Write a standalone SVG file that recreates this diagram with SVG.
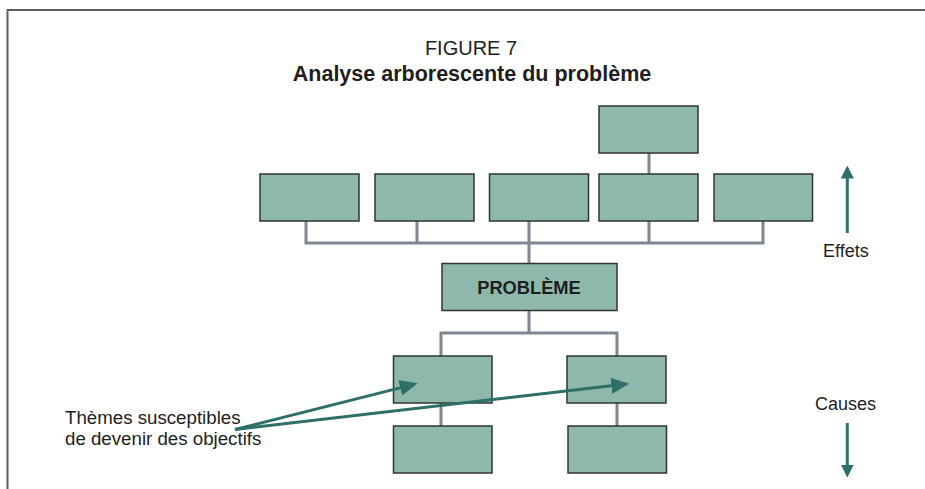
<svg xmlns="http://www.w3.org/2000/svg" width="925" height="489" viewBox="0 0 925 489">
<style>
  .box { fill: #8fb8ad; stroke: #2f3533; stroke-width: 1.5; }
  .conn { fill: none; stroke: #7f8793; stroke-width: 3; }
  .pointer { fill: none; stroke: #2e6f6a; stroke-width: 3; }
  .txt { font-family: "Liberation Sans", Arial, Helvetica, sans-serif; fill: #1e1e1e; }
  .frame { fill: none; stroke: #5e5e5e; stroke-width: 2; }
</style>
<defs>
  <marker id="head" markerUnits="userSpaceOnUse" markerWidth="18" markerHeight="16" refX="15" refY="8" orient="auto">
    <path d="M0,0 L18,8 L0,16 z" fill="#2e6f6a"/>
  </marker>
  <marker id="head2" markerUnits="userSpaceOnUse" markerWidth="13" markerHeight="13" refX="10" refY="6.5" orient="auto">
    <path d="M0,0 L13,6.5 L0,13 z" fill="#2e6f6a"/>
  </marker>
</defs>
<rect width="925" height="489" fill="#ffffff"/>
<path class="frame" d="M7.5,489 V10 H925"/>

<text class="txt" x="471" y="55" font-size="20" text-anchor="middle">FIGURE 7</text>
<text class="txt" x="472" y="81" font-size="21.5" font-weight="bold" text-anchor="middle">Analyse arborescente du problème</text>

<g id="connectors">
  <path class="conn" d="M649,153 V174"/>
  <path class="conn" d="M306,221 V243 H763 V221"/>
  <path class="conn" d="M417,221 V243"/>
  <path class="conn" d="M529,221 V263"/>
  <path class="conn" d="M649,221 V243"/>
  <path class="conn" d="M529,311 V333"/>
  <path class="conn" d="M441,356 V333 H617 V356"/>
  <path class="conn" d="M441,403 V426"/>
  <path class="conn" d="M617,403 V426"/>
</g>

<g id="effet-top"><rect class="box" x="599" y="106" width="99" height="47"/></g>
<g id="effet-1"><rect class="box" x="260" y="174" width="99" height="47"/></g>
<g id="effet-2"><rect class="box" x="375" y="174" width="99" height="47"/></g>
<g id="effet-3"><rect class="box" x="489.5" y="174" width="99" height="47"/></g>
<g id="effet-4"><rect class="box" x="599" y="174" width="99" height="47"/></g>
<g id="effet-5"><rect class="box" x="714" y="174" width="98.5" height="47"/></g>

<g id="probleme">
  <rect class="box" x="442" y="263.5" width="175" height="47"/>
  <text class="txt" x="529" y="294" font-size="18.3" font-weight="bold" text-anchor="middle">PROBLÈME</text>
</g>

<g id="cause-1"><rect class="box" x="393.5" y="356" width="98.5" height="47"/></g>
<g id="cause-2"><rect class="box" x="567" y="356" width="99" height="47"/></g>
<g id="cause-3"><rect class="box" x="393.5" y="426" width="98.5" height="47"/></g>
<g id="cause-4"><rect class="box" x="568" y="426" width="98.5" height="47"/></g>

<g id="pointers">
  <line class="pointer" x1="235" y1="429.5" x2="414.8" y2="384.1" marker-end="url(#head)"/>
  <line class="pointer" x1="235" y1="429.5" x2="626.3" y2="384" marker-end="url(#head)"/>
  <line class="pointer" x1="847.3" y1="233" x2="847.3" y2="168.5" marker-end="url(#head2)"/>
  <line class="pointer" x1="847.3" y1="423" x2="847.3" y2="474.5" marker-end="url(#head2)"/>
</g>

<g id="labels">
  <text class="txt" font-size="18.7" x="65" y="424">Thèmes susceptibles</text>
  <text class="txt" font-size="18.7" x="65" y="444.5">de devenir des objectifs</text>
  <text class="txt" font-size="18" x="823" y="257">Effets</text>
  <text class="txt" font-size="18" x="815" y="410">Causes</text>
</g>
</svg>
